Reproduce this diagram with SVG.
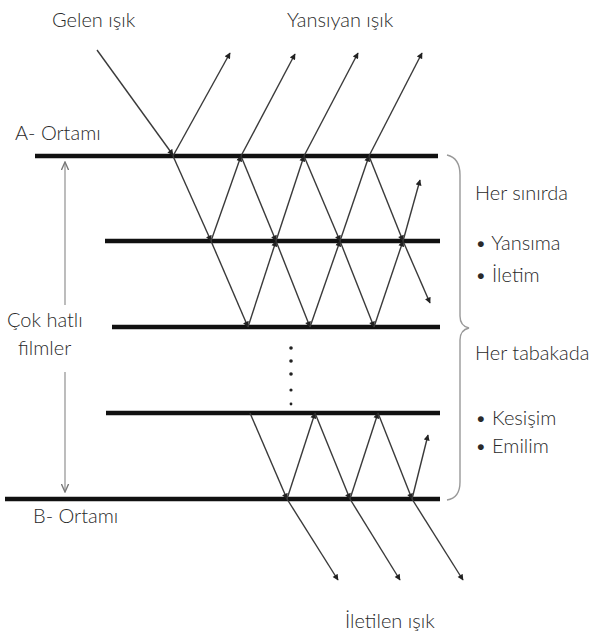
<svg xmlns="http://www.w3.org/2000/svg" width="596" height="637" viewBox="0 0 596 637">
<style>
text{font-family:"Lato","Open Sans","Liberation Sans",sans-serif;font-size:20px;font-weight:300;fill:#2a2a2a}
.layer{stroke:#111;stroke-width:4.5;stroke-linecap:butt}
.ray{stroke:#3a3a3a;stroke-width:1.4;fill:none;marker-end:url(#ah)}
.brace{stroke:#999;stroke-width:1.4;fill:none}
.dim{stroke:#999;stroke-width:1.3;fill:none}
</style>
<defs>
<marker id="ah" viewBox="0 0 10 10" refX="9" refY="5" markerWidth="7" markerHeight="6" markerUnits="userSpaceOnUse" orient="auto">
<path d="M0,0 L10,5 L0,10 z" fill="#222"/>
</marker>
<marker id="open" viewBox="0 0 10 10" refX="9" refY="5" markerWidth="9" markerHeight="9" markerUnits="userSpaceOnUse" orient="auto">
<path d="M0,1 L9,5 L0,9" fill="none" stroke="#777" stroke-width="1.5"/>
</marker>
</defs>
<rect width="596" height="637" fill="#fff"/>
<g id="layers">
<line class="layer" x1="35" y1="156" x2="438" y2="156"/>
<line class="layer" x1="105" y1="241" x2="440" y2="241"/>
<line class="layer" x1="112" y1="327" x2="440" y2="327"/>
<line class="layer" x1="106" y1="413" x2="440" y2="413"/>
<line class="layer" x1="5" y1="499" x2="440" y2="499"/>
</g>
<g id="connectors">
<line class="ray" x1="97" y1="50" x2="173" y2="155"/>
<line class="ray" x1="173" y1="156" x2="230" y2="53"/>
<line class="ray" x1="241" y1="156" x2="295" y2="54"/>
<line class="ray" x1="304" y1="156" x2="358" y2="53"/>
<line class="ray" x1="369" y1="156" x2="422" y2="53"/>
<line class="ray" x1="173" y1="156" x2="211" y2="241"/>
<line class="ray" x1="241" y1="156" x2="276" y2="241"/>
<line class="ray" x1="304" y1="156" x2="340" y2="241"/>
<line class="ray" x1="369" y1="156" x2="403" y2="241"/>
<line class="ray" x1="211" y1="241" x2="241" y2="156"/>
<line class="ray" x1="276" y1="241" x2="304" y2="156"/>
<line class="ray" x1="340" y1="241" x2="369" y2="156"/>
<line class="ray" x1="403" y1="241" x2="420" y2="180"/>
<line class="ray" x1="211" y1="241" x2="248" y2="327"/>
<line class="ray" x1="276" y1="241" x2="310" y2="327"/>
<line class="ray" x1="340" y1="241" x2="374" y2="327"/>
<line class="ray" x1="403" y1="241" x2="430" y2="303"/>
<line class="ray" x1="248" y1="327" x2="276" y2="241"/>
<line class="ray" x1="310" y1="327" x2="340" y2="241"/>
<line class="ray" x1="374" y1="327" x2="403" y2="241"/>
<line class="ray" x1="250" y1="413" x2="287" y2="499"/>
<line class="ray" x1="315" y1="413" x2="350" y2="499"/>
<line class="ray" x1="378" y1="413" x2="412" y2="499"/>
<line class="ray" x1="287" y1="499" x2="315" y2="413"/>
<line class="ray" x1="350" y1="499" x2="378" y2="413"/>
<line class="ray" x1="412" y1="499" x2="428" y2="435"/>
<line class="ray" x1="287" y1="499" x2="338" y2="580"/>
<line class="ray" x1="350" y1="499" x2="400" y2="580"/>
<line class="ray" x1="412" y1="499" x2="463" y2="580"/>
<line class="dim" x1="65" y1="305" x2="65" y2="162" marker-end="url(#open)"/>
<line class="dim" x1="65" y1="372" x2="65" y2="492" marker-end="url(#open)"/>
</g>
<g id="dots" fill="#222">
<circle cx="291" cy="348" r="1.8"/>
<circle cx="291" cy="361" r="1.8"/>
<circle cx="291" cy="374" r="1.8"/>
<circle cx="291" cy="390" r="1.6"/>
<circle cx="291" cy="404" r="1.4"/>
</g>
<g id="brace">
<path class="brace" d="M447,155 Q460,158 460,175 L460,316 Q460,326 469,328 Q460,330 460,340 L460,482 Q460,498 447,500"/>
</g>
<g id="labels">
<text x="52" y="27">Gelen ışık</text>
<text x="287" y="27">Yansıyan ışık</text>
<text x="15" y="140">A- Ortamı</text>
<text x="7" y="327">Çok hatlı</text>
<text x="18" y="355">filmler</text>
<text x="33" y="523">B- Ortamı</text>
<text x="345" y="628">İletilen ışık</text>
<text x="475" y="200">Her sınırda</text>
<text x="475" y="250">• Yansıma</text>
<text x="475" y="282">• İletim</text>
<text x="475" y="360">Her tabakada</text>
<text x="475" y="425">• Kesişim</text>
<text x="475" y="453">• Emilim</text>
</g>
</svg>
